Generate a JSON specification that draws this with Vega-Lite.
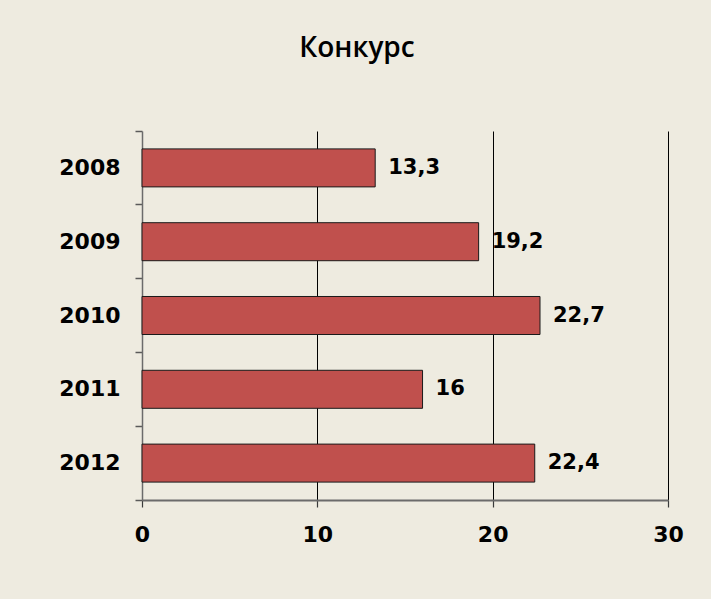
{
  "$schema": "https://vega.github.io/schema/vega-lite/v6.json",
  "width": 526,
  "height": 369,
  "autosize": "none",
  "padding": {"left": 142, "top": 131, "right": 43, "bottom": 99},
  "background": "#EEEBE0",
  "title": {
    "text": "Конкурс",
    "font": "Open Sans",
    "fontSize": 28,
    "fontWeight": 600,
    "color": "#000000",
    "anchor": "middle",
    "frame": "group",
    "dx": -48,
    "baseline": "alphabetic",
    "offset": 35
  },
  "data": {
    "values": [
      {"year": "2008", "value": 13.3, "label": "13,3"},
      {"year": "2009", "value": 19.2, "label": "19,2"},
      {"year": "2010", "value": 22.7, "label": "22,7"},
      {"year": "2011", "value": 16, "label": "16"},
      {"year": "2012", "value": 22.4, "label": "22,4"}
    ]
  },
  "encoding": {
    "y": {
      "field": "year",
      "type": "nominal",
      "sort": null,
      "title": null,
      "scale": {"paddingInner": 0, "paddingOuter": 0},
      "axis": {
        "bandPosition": 1,
        "tickExtra": true,
        "tickSize": 7,
        "tickColor": "#5a5a5a",
        "tickWidth": 1.5,
        "domainColor": "#6b6b6b",
        "domainWidth": 1.5,
        "labelFont": "DejaVu Sans",
        "labelFontWeight": "bold",
        "labelFontSize": 22,
        "labelColor": "#000000",
        "labelPadding": 15,
        "grid": false
      }
    }
  },
  "layer": [
    {
      "mark": {"type": "bar", "fill": "#C0504D", "stroke": "#1a1a1a", "strokeWidth": 1, "height": {"band": 0.515}},
      "encoding": {
        "x": {
          "field": "value",
          "type": "quantitative",
          "title": null,
          "scale": {"domain": [0, 30], "nice": false},
          "axis": {
            "values": [0, 10, 20, 30],
            "grid": true,
            "gridColor": {"condition": {"test": "datum.value === 0", "value": "transparent"}, "value": "#000000"},
            "gridWidth": 1,
            "gridOpacity": 1,
            "tickSize": 7,
            "tickColor": "#3a3a3a",
            "tickWidth": 1.2,
            "domainColor": "#6b6b6b",
            "domainWidth": 2,
            "labelFont": "DejaVu Sans",
            "labelFontWeight": "bold",
            "labelFontSize": 22,
            "labelColor": "#000000",
            "labelPadding": 17,
            "labelFlush": false
          }
        }
      }
    },
    {
      "mark": {"type": "text", "align": "left", "baseline": "middle", "dx": 13, "font": "DejaVu Sans", "fontWeight": "bold", "fontSize": 21, "color": "#000000"},
      "encoding": {
        "x": {"field": "value", "type": "quantitative"},
        "text": {"field": "label"}
      }
    }
  ],
  "config": {"view": {"stroke": null}}
}
